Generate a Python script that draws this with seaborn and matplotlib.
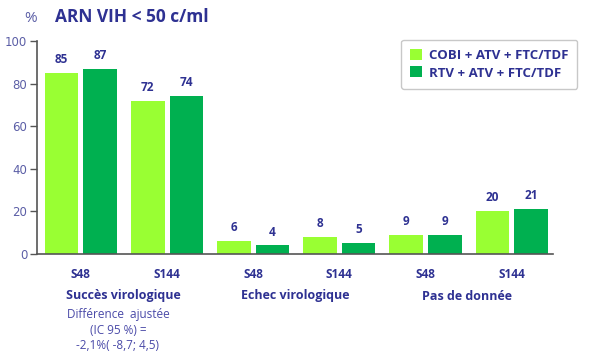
import matplotlib
matplotlib.use("Agg")
import matplotlib.pyplot as plt
import seaborn as sns
import pandas as pd
from matplotlib.patches import Patch

timepoints = ["S48", "S144", "S48", "S144", "S48", "S144"]
groups = ["Succès virologique", "Echec virologique", "Pas de donnée"]
series = ["COBI + ATV + FTC/TDF", "RTV + ATV + FTC/TDF"]
cobi = [85, 72, 6, 8, 9, 20]
rtv = [87, 74, 4, 5, 9, 21]
yticks = [0, 20, 40, 60, 80, 100]
title = "ARN VIH < 50 c/ml"
note = "Différence  ajustée\n(IC 95 %) =\n-2,1%( -8,7; 4,5)"

colors = ["#99ff33", "#00b050"]
navy = "#2e3192"
slate = "#5b5ea6"

sns.set_theme(style="white")
plt.rcParams['font.family'] = ['Open Sans', 'DejaVu Sans']

slots = [f"{t}_{i}" for i, t in enumerate(timepoints)]
df = pd.DataFrame({
    "slot": slots * 2,
    "value": cobi + rtv,
    "series": [series[0]] * 6 + [series[1]] * 6,
})

fig = plt.figure(figsize=(5.91, 3.55), dpi=100)
ax = fig.add_axes([0.0626, 0.2845, 0.8731, 0.60])

sns.barplot(data=df, x="slot", y="value", hue="series", order=slots,
            hue_order=series, palette=colors, saturation=1, width=0.895,
            gap=0.13, ax=ax, linewidth=0, legend=False, errorbar=None)

for cont in ax.containers:
    ax.bar_label(cont, labels=[f"{v:.0f}" for v in cont.datavalues],
                 padding=5, fontsize=8.5, fontweight="bold", color=navy)

ax.set_xlim(-0.51, 5.48)
ax.set_ylim(0, 100)
ax.set_yticks(yticks)
ax.set_yticklabels([str(v) for v in yticks], family="DejaVu Sans",
                   fontsize=8.5, color=slate)
ax.tick_params(axis="y", left=True, length=5, width=1, color="#555555", pad=2)
ax.set_xticks(range(6))
ax.set_xticklabels(timepoints, fontsize=8.5, fontweight="bold", color=navy)
ax.tick_params(axis="x", bottom=False, pad=4)
ax.set_xlabel("")
ax.set_ylabel("")
for s in ["top", "right"]:
    ax.spines[s].set_visible(False)
for s in ["left", "bottom"]:
    ax.spines[s].set_color("#555555")
    ax.spines[s].set_linewidth(1.2)

for i, g in enumerate(groups):
    fig.text((123 + 172 * i) / 591, 1 - 296 / 355, g, ha="center", va="center",
             fontsize=9, fontweight="bold", color=navy)
fig.text(118 / 591, 1 - 330 / 355, note, ha="center", va="center",
         fontsize=8.5, color="#4a4aa8", linespacing=1.25)

fig.text(31 / 591, 1 - 18 / 355, "%", ha="center", va="center",
         fontsize=11, color=slate)
fig.text(55 / 591, 1 - 17 / 355, title, ha="left", va="center",
         fontsize=12.5, fontweight="bold", color=navy)

handles = [Patch(facecolor=c, edgecolor="none") for c in colors]
leg = fig.legend(handles, series, loc="upper right",
                 bbox_to_anchor=(584 / 591, 1 - 33 / 355),
                 frameon=True, fancybox=True, handlelength=0.9, handleheight=0.9,
                 handletextpad=0.5, borderpad=0.7, labelspacing=0.35,
                 prop={"weight": "bold", "size": 9.5})
leg.get_frame().set_edgecolor("#bbbbbb")
leg.get_frame().set_linewidth(1.0)
for t in leg.get_texts():
    t.set_color(navy)

fig.savefig("out.png", dpi=100)
